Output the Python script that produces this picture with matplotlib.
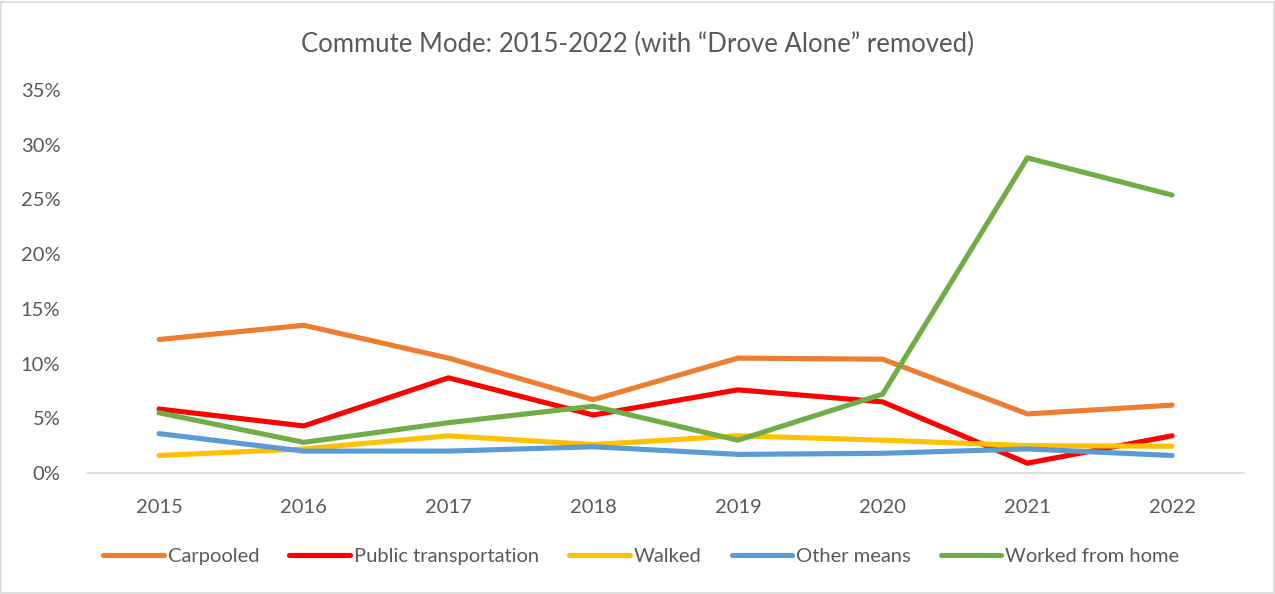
import matplotlib
matplotlib.use("Agg")
import matplotlib.pyplot as plt
from matplotlib.patches import Rectangle
from matplotlib.ticker import FuncFormatter

years = ["2015", "2016", "2017", "2018", "2019", "2020", "2021", "2022"]
carpooled = [12.2, 13.5, 10.5, 6.7, 10.5, 10.4, 5.4, 6.2]
public_transport = [5.85, 4.3, 8.7, 5.3, 7.6, 6.5, 0.9, 3.4]
walked = [1.6, 2.2, 3.4, 2.6, 3.4, 3.0, 2.5, 2.45]
other_means = [3.6, 2.0, 2.0, 2.4, 1.7, 1.8, 2.2, 1.6]
worked_from_home = [5.5, 2.8, 4.6, 6.1, 3.0, 7.2, 28.8, 25.4]

series = [
    ("Carpooled", carpooled, "#ED7D31"),
    ("Public transportation", public_transport, "#FF0000"),
    ("Walked", walked, "#FFC000"),
    ("Other means", other_means, "#5B9BD5"),
    ("Worked from home", worked_from_home, "#70AD47"),
]

plt.rcParams['font.family'] = ['Lato', 'DejaVu Sans']
text_color = "#595959"

fig = plt.figure(figsize=(12.75, 5.94), dpi=100)
ax = fig.add_axes([0.068, 0.2037, 0.908, 0.6448])

x = list(range(len(years)))
for name, vals, col in series:
    ax.plot(x, vals, color=col, lw=3.7, label=name, solid_capstyle='round', solid_joinstyle='round')

ax.set_xlim(-0.5, len(years) - 0.5)
ax.set_ylim(0, 35)
ax.set_yticks(range(0, 36, 5))
ax.yaxis.set_major_formatter(FuncFormatter(lambda v, p: f"{int(v)}%"))
ax.set_xticks(x)
ax.set_xticklabels(years)
for s in ["top", "right", "left"]:
    ax.spines[s].set_visible(False)
ax.spines["bottom"].set_color("#D9D9D9")
ax.spines["bottom"].set_linewidth(1.2)
ax.tick_params(axis='both', length=0, labelsize=14.5, colors=text_color)
ax.tick_params(axis='x', pad=19)
ax.tick_params(axis='y', pad=19)

fig.text(0.5, 0.925, "Commute Mode: 2015-2022 (with \u201cDrove Alone\u201d removed)",
         ha='center', va='center', fontsize=18.5, color=text_color)

leg = fig.legend(loc='center', bbox_to_anchor=(0.503, 0.063), ncol=5, frameon=False,
                 fontsize=14.5, handlelength=3.0, handletextpad=0.2, columnspacing=1.5)
for t in leg.get_texts():
    t.set_color(text_color)

fig.patches.append(Rectangle((0.001, 0.002), 0.998, 0.995, transform=fig.transFigure,
                             fill=False, edgecolor="#D9D9D9", lw=1.2))

fig.savefig("out.png", dpi=100, facecolor="white")
